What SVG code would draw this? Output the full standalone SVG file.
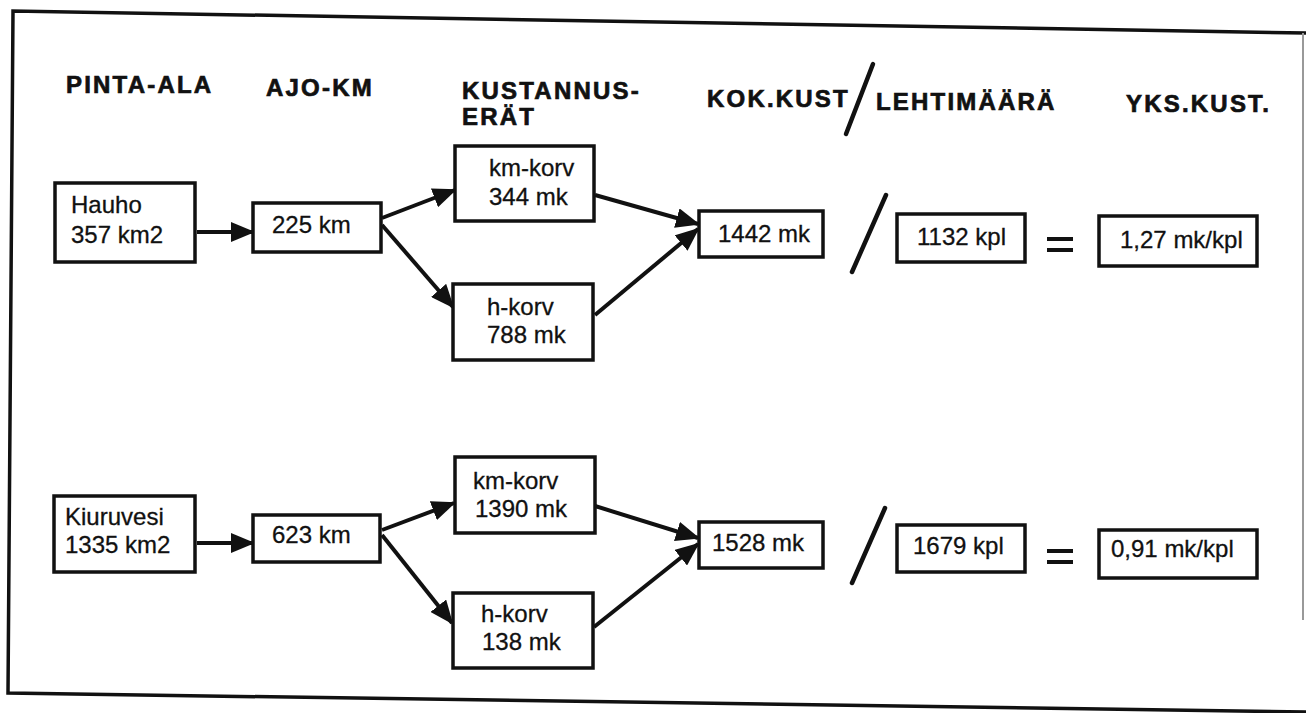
<svg xmlns="http://www.w3.org/2000/svg" width="1306" height="713" viewBox="0 0 1306 713">
<style>
.hd{font-family:"Liberation Sans",Arial,sans-serif;font-weight:bold;font-size:24px;letter-spacing:2.2px;fill:#111;stroke:#111;stroke-width:0.7}
.tx{font-family:"Liberation Sans",Arial,sans-serif;font-size:24px;fill:#111;stroke:#111;stroke-width:0.3}
.bx{fill:#fff;stroke:#111;stroke-width:3.5}
.ar{stroke:#111;stroke-width:4;fill:none}
.sl{stroke:#111;stroke-width:4.5;stroke-linecap:round}
.eq{stroke:#111;stroke-width:4}
</style>
<defs>
<marker id="ah" markerUnits="userSpaceOnUse" markerWidth="24" markerHeight="20" viewBox="0 0 24 20" refX="22" refY="10" orient="auto">
<path d="M0,0 L24,10 L0,20 z" fill="#111"/>
</marker>
</defs>
<rect width="1306" height="713" fill="#fff"/>
<g id="frame">
<path d="M1306,33 L13,11 L8,693 L1306,712" fill="none" stroke="#111" stroke-width="3.5"/>
<line x1="1303" y1="33" x2="1303" y2="620" stroke="#999" stroke-width="2"/>
</g>
<g id="headers">
<text class="hd" x="66" y="93">PINTA-ALA</text>
<text class="hd" x="266" y="96">AJO-KM</text>
<text class="hd" x="462" y="99">KUSTANNUS-</text>
<text class="hd" x="462" y="125">ERÄT</text>
<text class="hd" x="707" y="107">KOK.KUST</text>
<line class="sl" x1="873" y1="64" x2="846" y2="134"/>
<text class="hd" x="876" y="110">LEHTIMÄÄRÄ</text>
<text class="hd" x="1126" y="112">YKS.KUST.</text>
</g>
<g id="connectors">
<line class="ar" x1="197" y1="232" x2="253" y2="232" marker-end="url(#ah)"/>
<line class="ar" x1="382" y1="218" x2="455" y2="190" marker-end="url(#ah)"/>
<line class="ar" x1="382" y1="225" x2="453" y2="307" marker-end="url(#ah)"/>
<line class="ar" x1="595" y1="195" x2="698" y2="224" marker-end="url(#ah)"/>
<line class="ar" x1="595" y1="315" x2="698" y2="229" marker-end="url(#ah)"/>
<line class="ar" x1="197" y1="543" x2="253" y2="543" marker-end="url(#ah)"/>
<line class="ar" x1="382" y1="530" x2="454" y2="503" marker-end="url(#ah)"/>
<line class="ar" x1="382" y1="535" x2="452" y2="623" marker-end="url(#ah)"/>
<line class="ar" x1="595" y1="506" x2="698" y2="538" marker-end="url(#ah)"/>
<line class="ar" x1="594" y1="627" x2="698" y2="544" marker-end="url(#ah)"/>
</g>
<g id="hauho"><rect class="bx" x="55" y="183" width="140" height="79"/><text class="tx" x="71" y="213">Hauho</text><text class="tx" x="71" y="243">357 km2</text></g>
<g id="km225"><rect class="bx" x="253" y="203" width="128" height="49"/><text class="tx" x="272" y="233">225 km</text></g>
<g id="kmkorv1"><rect class="bx" x="455" y="146" width="139" height="75"/><text class="tx" x="489" y="176">km-korv</text><text class="tx" x="489" y="205">344 mk</text></g>
<g id="hkorv1"><rect class="bx" x="453" y="284" width="140" height="76"/><text class="tx" x="487" y="315">h-korv</text><text class="tx" x="487" y="343">788 mk</text></g>
<g id="kok1"><rect class="bx" x="699" y="211" width="124" height="46"/><text class="tx" x="718" y="242">1442 mk</text></g>
<g id="div1"><line class="sl" x1="886" y1="195" x2="852" y2="272"/></g>
<g id="lehti1"><rect class="bx" x="897" y="214" width="128" height="48"/><text class="tx" x="917" y="245">1132 kpl</text></g>
<g id="eq1"><line class="eq" x1="1047" y1="239" x2="1073" y2="239"/><line class="eq" x1="1047" y1="250" x2="1073" y2="250"/></g>
<g id="yks1"><rect class="bx" x="1099" y="216" width="158" height="50"/><text class="tx" x="1120" y="248">1,27 mk/kpl</text></g>
<g id="kiuruvesi"><rect class="bx" x="54" y="496" width="141" height="76"/><text class="tx" x="65" y="525">Kiuruvesi</text><text class="tx" x="65" y="553">1335 km2</text></g>
<g id="km623"><rect class="bx" x="253" y="515" width="127" height="47"/><text class="tx" x="272" y="543">623 km</text></g>
<g id="kmkorv2"><rect class="bx" x="455" y="457" width="140" height="76"/><text class="tx" x="473" y="489">km-korv</text><text class="tx" x="475" y="517">1390 mk</text></g>
<g id="hkorv2"><rect class="bx" x="453" y="593" width="140" height="75"/><text class="tx" x="481" y="622">h-korv</text><text class="tx" x="482" y="650">138 mk</text></g>
<g id="kok2"><rect class="bx" x="699" y="522" width="124" height="46"/><text class="tx" x="712" y="551">1528 mk</text></g>
<g id="div2"><line class="sl" x1="885" y1="508" x2="852" y2="583"/></g>
<g id="lehti2"><rect class="bx" x="897" y="525" width="128" height="47"/><text class="tx" x="913" y="554">1679 kpl</text></g>
<g id="eq2"><line class="eq" x1="1047" y1="551" x2="1073" y2="551"/><line class="eq" x1="1047" y1="562" x2="1073" y2="562"/></g>
<g id="yks2"><rect class="bx" x="1099" y="530" width="158" height="48"/><text class="tx" x="1111" y="557">0,91 mk/kpl</text></g>
</svg>
